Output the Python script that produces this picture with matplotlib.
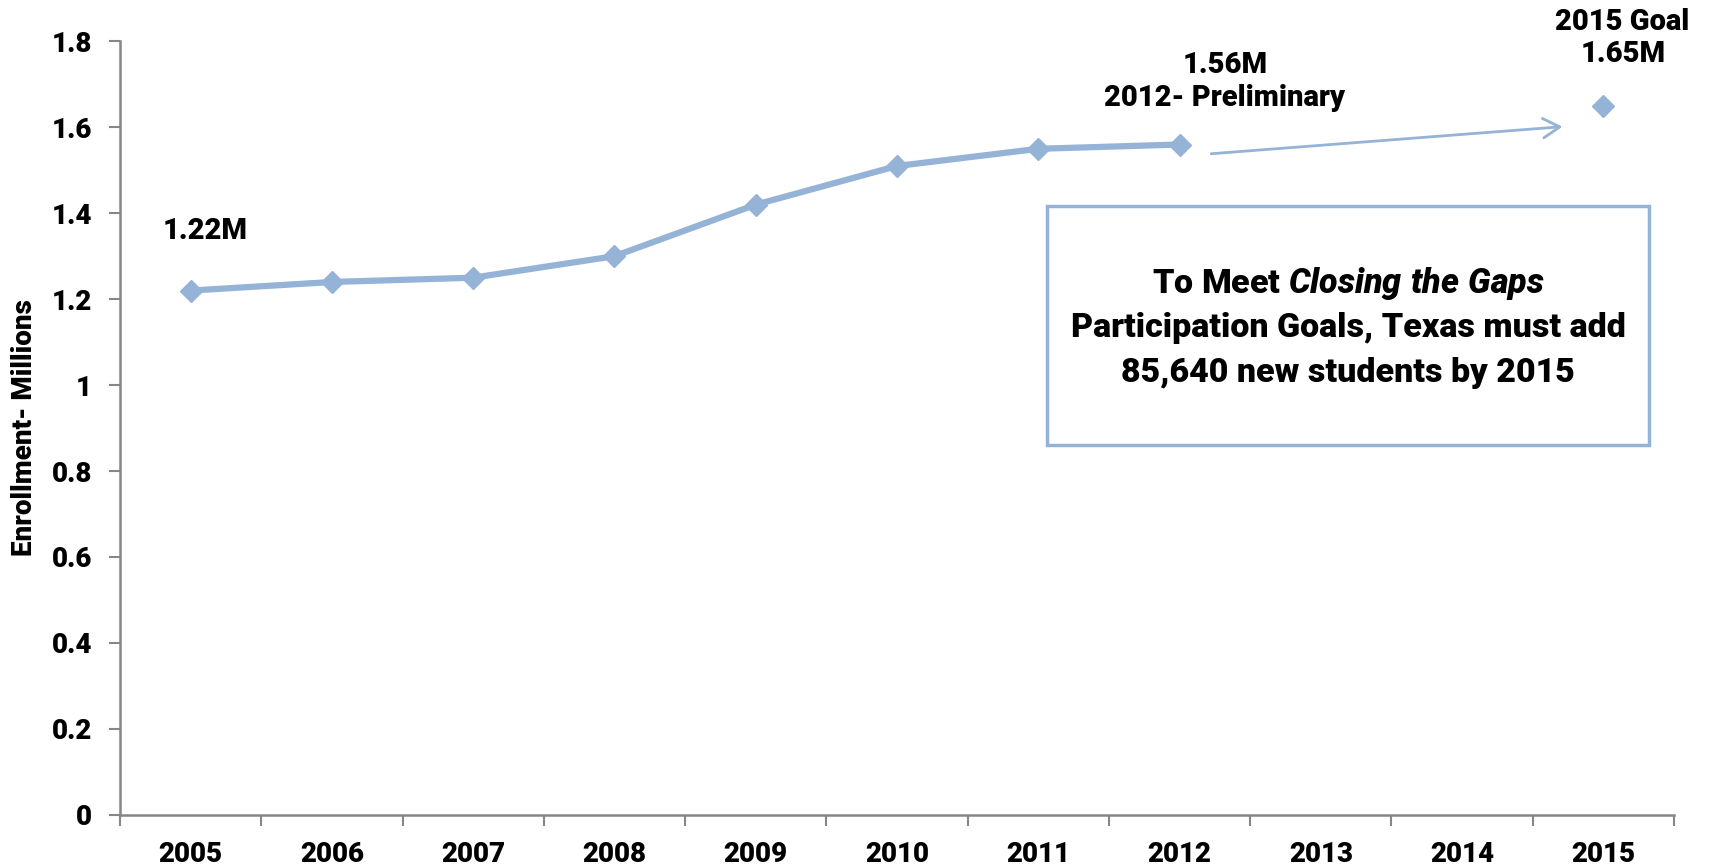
import matplotlib
matplotlib.use("Agg")
import matplotlib.pyplot as plt
from matplotlib.patches import FancyArrowPatch, Rectangle

years = ["2005", "2006", "2007", "2008", "2009", "2010", "2011", "2012", "2013", "2014", "2015"]
actual_years = ["2005", "2006", "2007", "2008", "2009", "2010", "2011", "2012"]
enrollment = [1.22, 1.24, 1.25, 1.30, 1.42, 1.51, 1.55, 1.56]
goal_year = "2015"
goal_value = 1.65
yticks = [0, 0.2, 0.4, 0.6, 0.8, 1, 1.2, 1.4, 1.6, 1.8]
ytick_labels = ["0", "0.2", "0.4", "0.6", "0.8", "1", "1.2", "1.4", "1.6", "1.8"]

FONT = 'Roboto'
WT = 'heavy'
plt.rcParams['font.family'] = [FONT, 'DejaVu Sans']
plt.rcParams['mathtext.fontset'] = 'custom'
plt.rcParams['mathtext.it'] = FONT + ':italic:heavy'
plt.rcParams['mathtext.rm'] = FONT + ':heavy'

LINE = '#95B3D7'
GRAY = '#868686'

fig = plt.figure(figsize=(17.1, 8.66), dpi=100)
ax = fig.add_axes([120/1710, 1-814.7/866, (1674-120)/1710, (814.7-41.4)/866])

xi = {y: i for i, y in enumerate(years)}
xs = [xi[y] for y in actual_years]
ax.plot(xs, enrollment, color=LINE, lw=4.5, marker='D', ms=11, mfc=LINE, mec=LINE, zorder=3)
ax.plot([xi[goal_year]], [goal_value], ls='none', marker='D', ms=11, color=LINE, zorder=3)

ax.set_xlim(-0.5, len(years) - 0.5)
ax.set_ylim(0, 1.8)
ax.set_xticks(range(len(years)))
ax.set_xticklabels(years, fontsize=20, fontweight=WT)
ax.set_xticks([i - 0.5 for i in range(len(years) + 1)], minor=True)
ax.tick_params(axis='x', which='major', length=0, pad=19)
ax.tick_params(axis='x', which='minor', length=8, width=1.5, color=GRAY, direction='out')
ax.set_yticks(yticks)
ax.set_yticklabels(ytick_labels, fontsize=20, fontweight=WT)
ax.tick_params(axis='y', length=8, width=1.5, color=GRAY, pad=12)
for s in ['top', 'right']:
    ax.spines[s].set_visible(False)
for s in ['left', 'bottom']:
    ax.spines[s].set_color(GRAY)
    ax.spines[s].set_linewidth(1.8)
ax.set_ylabel("Enrollment- Millions", fontsize=20, fontweight=WT, labelpad=10)

kw = dict(ha='center', va='center', fontsize=21, fontweight=WT, clip_on=False)
ax.text(0.1, 1.358, "1.22M", **kw)
ax.text(7.32, 1.744, "1.56M", **kw)
ax.text(7.32, 1.668, "2012- Preliminary", **kw)
ax.text(10.13, 1.846, "2015 Goal", **kw)
ax.text(10.14, 1.77, "1.65M", **kw)

arr = FancyArrowPatch((7.205, 1.538), (9.73, 1.602), arrowstyle='->,head_length=12,head_width=7',
                      color=LINE, lw=2, mutation_scale=1)
ax.add_patch(arr)

# text box
bx0, bx1 = 1047/1710, 1649/1710
by0, by1 = 1-445/866, 1-206/866
fig.patches.append(Rectangle((bx0, by0), bx1-bx0, by1-by0, transform=fig.transFigure,
                             fill=True, facecolor='white', edgecolor=LINE, lw=2.5, zorder=5))
cx = (bx0 + bx1) / 2
bkw = dict(ha='center', va='center', fontsize=24.5, fontweight=WT, zorder=6)
fig.text(cx, 1-284/866, r"To Meet $\mathit{Closing\ the\ Gaps}$", **bkw)
fig.text(cx, 1-328/866, "Participation Goals, Texas must add", **bkw)
fig.text(cx, 1-373/866, "85,640 new students by 2015", **bkw)

fig.savefig("out.png", dpi=100)
